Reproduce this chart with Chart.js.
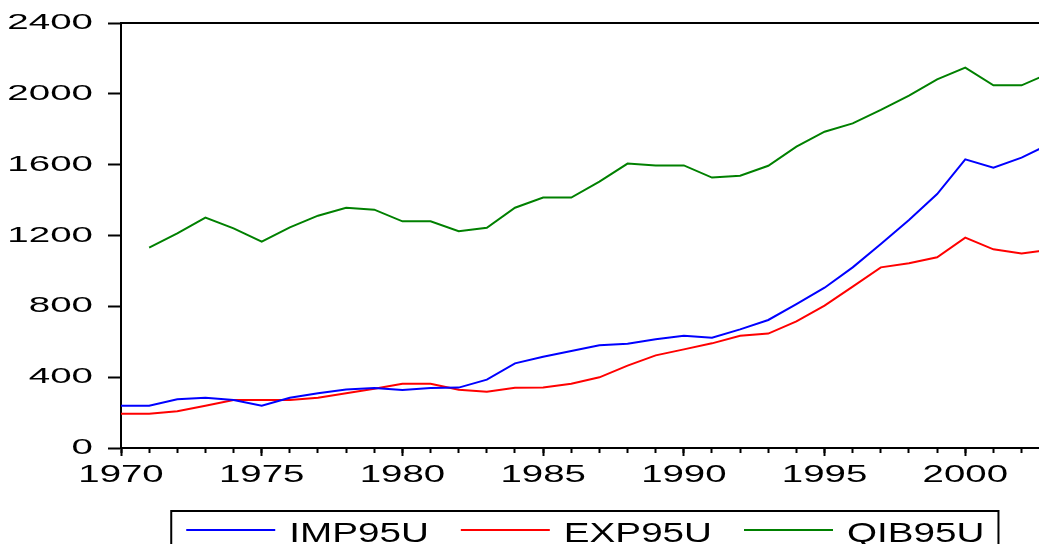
<!DOCTYPE html>
<html>
<head>
<meta charset="utf-8">
<title>IMP95U, EXP95U, QIB95U</title>
<script src="https://cdn.jsdelivr.net/npm/chart.js@4/dist/chart.umd.min.js"></script>
<style>
  html, body { margin: 0; padding: 0; background: #fff; overflow: hidden; }
  #wrap { position: relative; width: 1060px; height: 544px; }
</style>
</head>
<body>
<div id="wrap"><canvas id="chart"></canvas></div>
<script>
// Annual series, 1970-2003
const years = [1970, 1971, 1972, 1973, 1974, 1975, 1976, 1977, 1978, 1979,
               1980, 1981, 1982, 1983, 1984, 1985, 1986, 1987, 1988, 1989,
               1990, 1991, 1992, 1993, 1994, 1995, 1996, 1997, 1998, 1999,
               2000, 2001, 2002, 2003];

const imp95u = [239, 239, 275, 284, 271, 239, 284, 309, 331, 339,
                328, 339, 341, 386, 478, 515, 548, 580, 589, 614,
                634, 623, 670, 723, 813, 905, 1020, 1152, 1288, 1434,
                1630, 1583, 1640, 1717];

const exp95u = [194, 194, 207, 239, 271, 271, 271, 284, 309, 335,
                363, 363, 329, 318, 340, 342, 363, 399, 465, 523,
                557, 591, 634, 646, 715, 804, 911, 1020, 1043, 1077,
                1188, 1122, 1099, 1120];

const qib95u = [null, 1131, 1212, 1301, 1240, 1165, 1246, 1312, 1357, 1346,
                1280, 1280, 1224, 1244, 1357, 1414, 1414, 1504, 1606, 1596,
                1596, 1527, 1538, 1594, 1702, 1786, 1833, 1909, 1990, 2082,
                2148, 2048, 2048, 2117];

const seriesNames = ['IMP95U', 'EXP95U', 'QIB95U'];
const seriesColors = ['#0000ff', '#ff0000', '#008000'];

const yTicks = [0, 400, 800, 1200, 1600, 2000, 2400];
const xRange = [1970, 2003];
const xLabelStep = 5;

const canvas = document.getElementById('chart');
const ctx = canvas.getContext('2d');

// Wide lettering: each text size gets its own horizontal stretch and baseline nudge.
const LETTERING = {
  22: { sx: 1.75, dy: 0 },   // value axis
  24: { sx: 1.6,  dy: 0 },   // year axis
  28: { sx: 1.38, dy: 4 }    // legend
};
function lettering() {
  const m = /(\d+(?:\.\d+)?)px/.exec(ctx.font);
  return (m && LETTERING[Math.round(+m[1])]) || { sx: 1, dy: 0 };
}
const plainFill = ctx.fillText.bind(ctx);
const plainMeasure = ctx.measureText.bind(ctx);
ctx.fillText = function (text, x, y) {
  const { sx, dy } = lettering();
  ctx.save();
  ctx.translate(x, y + dy);
  ctx.scale(sx, 1);
  plainFill(text, 0, 0);
  ctx.restore();
};
ctx.measureText = function (text) {
  const m = plainMeasure(text);
  const { sx } = lettering();
  return {
    width: m.width * sx,
    actualBoundingBoxLeft: m.actualBoundingBoxLeft * sx,
    actualBoundingBoxRight: m.actualBoundingBoxRight * sx,
    actualBoundingBoxAscent: m.actualBoundingBoxAscent,
    actualBoundingBoxDescent: m.actualBoundingBoxDescent,
    fontBoundingBoxAscent: m.fontBoundingBoxAscent,
    fontBoundingBoxDescent: m.fontBoundingBoxDescent
  };
};

const seriesValues = [imp95u, exp95u, qib95u];
const datasets = seriesValues.map((vals, i) => ({
  label: seriesNames[i],
  data: years.map((yr, k) => ({ x: yr, y: vals[k] })),
  borderColor: seriesColors[i],
  backgroundColor: seriesColors[i],
  borderWidth: 2,
  pointRadius: 0,
  tension: 0,
  spanGaps: false
}));

// Top and right edges of the plot frame, plus the box around the legend
const framePlugin = {
  id: 'frame',
  afterDraw(chart) {
    const c = chart.ctx;
    const a = chart.chartArea;
    c.save();
    c.strokeStyle = '#000';
    c.lineWidth = 2;
    c.beginPath();
    c.moveTo(a.left - 1, a.top);
    c.lineTo(a.right, a.top);
    c.lineTo(a.right, a.bottom);
    c.stroke();

    const boxes = chart.legend && chart.legend.legendHitBoxes;
    if (boxes && boxes.length) {
      const first = boxes[0];
      const last = boxes[boxes.length - 1];
      const left = first.left - 15;
      const right = last.left + last.width + 14;
      const top = first.top - 5;
      c.strokeRect(left, top, right - left, 80);
    }
    c.restore();
  }
};

Chart.defaults.color = '#000';
Chart.defaults.font.family = '"Liberation Sans", Arial, sans-serif';

new Chart(ctx, {
  type: 'line',
  data: { datasets },
  plugins: [framePlugin],
  options: {
    responsive: true,
    maintainAspectRatio: false,
    animation: false,
    events: [],
    layout: { padding: { top: 23, right: 10.3, left: 0, bottom: 0 } },
    scales: {
      xm: {
        type: 'linear',
        position: 'bottom',
        weight: -1,
        min: xRange[0],
        max: xRange[1],
        ticks: { display: false, stepSize: 1, includeBounds: false },
        grid: { drawOnChartArea: false, drawTicks: true, tickLength: 5, tickWidth: 2, tickColor: '#000' },
        border: { display: false },
        afterFit(scale) { scale.height = 0; }
      },
      x: {
        type: 'linear',
        position: 'bottom',
        weight: 0,
        min: xRange[0],
        max: xRange[1],
        ticks: {
          stepSize: xLabelStep,
          includeBounds: false,
          maxRotation: 0,
          autoSkip: false,
          padding: 5,
          font: { size: 24 },
          callback: v => String(v)
        },
        grid: { drawOnChartArea: false, drawTicks: true, tickLength: 8, tickWidth: 2, tickColor: '#000' },
        border: { display: true, color: '#000', width: 2 },
        afterFit(scale) { scale.height = 36; }
      },
      y: {
        type: 'linear',
        position: 'left',
        min: yTicks[0],
        max: yTicks[yTicks.length - 1],
        afterBuildTicks(scale) { scale.ticks = yTicks.map(v => ({ value: v })); },
        ticks: {
          padding: 15,
          font: { size: 22 },
          callback: v => String(v)
        },
        grid: { drawOnChartArea: false, drawTicks: true, tickLength: 13, tickWidth: 2, tickColor: '#000' },
        border: { display: true, color: '#000', width: 2 },
        afterFit(scale) {
          scale.width = 121;
          scale.paddingTop = 0;
          scale.paddingBottom = 0;
        }
      }
    },
    plugins: {
      tooltip: { enabled: false },
      title: { display: false },
      legend: {
        display: true,
        position: 'bottom',
        fullSize: false,
        maxHeight: 60,
        labels: {
          boxWidth: 89,
          boxHeight: 0,
          padding: 32,
          color: '#000',
          font: { size: 28 }
        }
      }
    }
  }
});
</script>
</body>
</html>
